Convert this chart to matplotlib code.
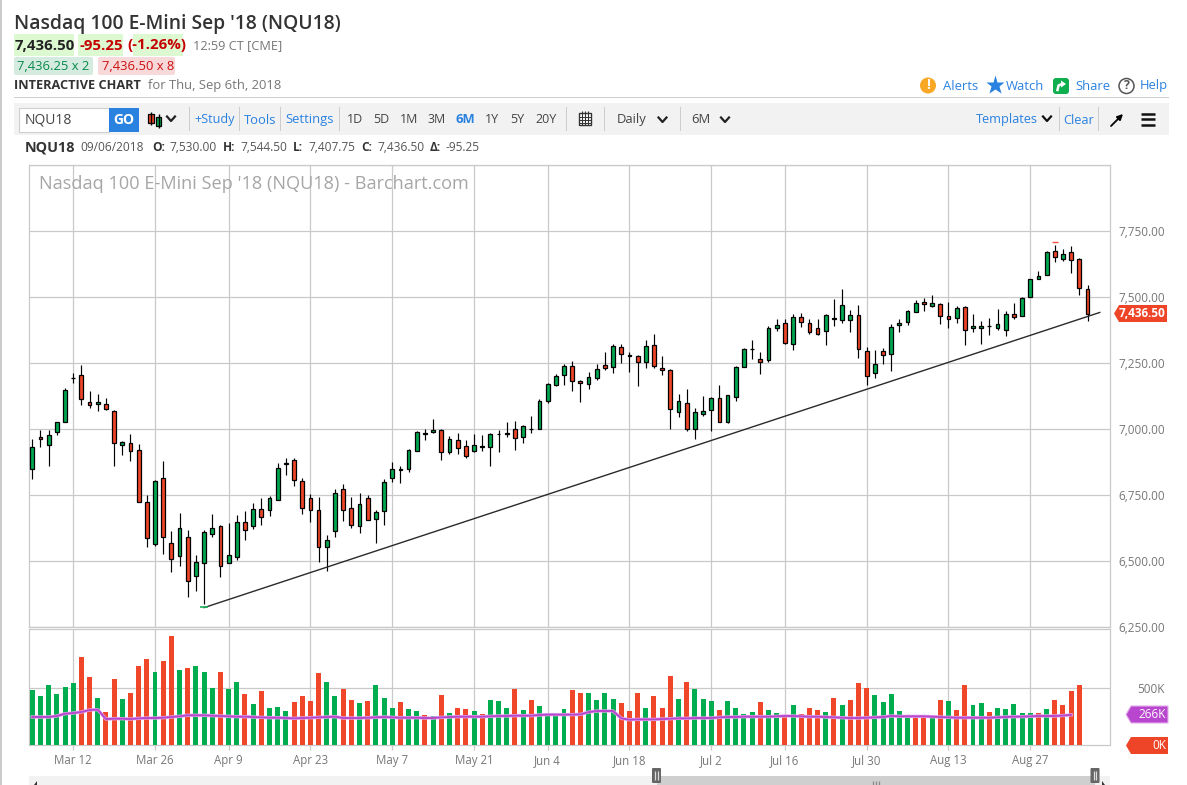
import matplotlib
matplotlib.use("Agg")
import matplotlib.pyplot as plt
from matplotlib.patches import Rectangle, Polygon, FancyBboxPatch, Circle

# ---------------- data ----------------
opens = [6848,6970,6939,6989,7027,7192,7205,7102,7095,7095,7068,6939,6947,6920,6723,6564,6814,6568,6519,6591,
         6443,6492,6602,6633,6492,6515,6648,6633,6697,6693,6731,6867,6883,6803,6739,6693,6553,6614,6773,6701,
         6633,6739,6659,6689,6814,6844,6848,6917,6985,6989,6996,6913,6958,6936,6917,6935,6932,6980,6982,7000,
         6970,7001,7000,7106,7167,7205,7239,7182,7170,7193,7242,7235,7311,7278,7277,7254,7318,7231,7223,7064,
         7098,7000,7057,7072,7117,7026,7121,7235,7302,7265,7261,7383,7402,7322,7424,7402,7383,7371,7421,7413,
         7413,7432,7295,7212,7295,7284,7394,7405,7443,7481,7466,7473,7428,7420,7462,7383,7383,7389,7383,7375,
         7436,7428,7500,7568,7583,7674,7644,7670,7644,7530]
highs = [6960,6994,6994,7027,7155,7212,7240,7144,7133,7117,7072,6953,6981,6943,6750,6807,6879,6614,6682,6617,
         6523,6617,6678,6635,6644,6674,6689,6720,6739,6746,6871,6890,6890,6814,6754,6742,6598,6773,6792,6742,
         6758,6750,6693,6811,6875,6860,6924,6991,7000,7038,7000,6973,6985,6958,6981,6977,6985,6996,7027,7030,
         7015,7049,7114,7174,7208,7246,7258,7186,7216,7246,7292,7322,7322,7292,7280,7337,7360,7277,7225,7133,
         7151,7080,7125,7121,7167,7129,7239,7307,7337,7292,7390,7417,7417,7436,7439,7417,7417,7436,7492,7530,
         7451,7470,7311,7299,7307,7398,7417,7451,7489,7496,7508,7475,7481,7466,7466,7436,7409,7420,7455,7447,
         7477,7500,7568,7598,7674,7697,7682,7693,7646,7544.5]
lows = [6809,6931,6859,6976,7025,7174,7090,7078,7067,7071,6859,6900,6878,6723,6552,6557,6525,6457,6480,6362,
        6385,6337,6590,6438,6490,6503,6578,6620,6635,6669,6731,6824,6784,6678,6646,6495,6462,6590,6650,6624,
        6605,6655,6567,6635,6798,6794,6836,6917,6956,6985,6881,6905,6905,6890,6913,6917,6859,6912,6968,6919,
        6947,6985,7000,7098,7162,7165,7143,7101,7150,7186,7222,7212,7250,7215,7162,7230,7231,7205,7000,7044,
        6991,6961,7048,6991,7026,7023,7105,7234,7263,7207,7254,7370,7322,7299,7386,7360,7356,7317,7390,7402,
        7367,7269,7167,7192,7245,7218,7367,7393,7443,7446,7462,7396,7381,7401,7319,7367,7323,7356,7375,7353,
        7417,7428,7500,7568,7583,7633,7636,7590,7508,7407.75]
closes = [6931,6961,6977,7027,7148,7194,7114,7091,7102,7076,6947,6951,6917,6723,6587,6803,6591,6508,6625,6424,
          6496,6610,6625,6480,6523,6648,6617,6697,6667,6739,6852,6871,6807,6701,6693,6553,6580,6758,6693,6636,
          6716,6655,6686,6799,6848,6846,6920,6989,6982,6996,6913,6962,6928,6898,6939,6932,6981,6982,6985,6966,
          7011,6999,7106,7170,7201,7239,7182,7174,7197,7227,7231,7314,7284,7276,7254,7314,7239,7223,7076,7106,
          7000,7064,7068,7117,7026,7129,7235,7303,7304,7254,7383,7394,7326,7424,7405,7367,7360,7432,7418,7470,
          7432,7303,7201,7246,7280,7386,7401,7447,7477,7473,7477,7428,7417,7458,7375,7390,7390,7391,7398,7436,
          7424,7496,7568,7580,7670,7652,7663,7640,7534,7436.5]
volumes = [485,432,529,450,512,547,776,600,415,291,582,406,459,697,759,644,741,961,662,679,
           697,644,503,644,494,556,450,362,476,326,335,300,379,432,388,635,556,432,494,397,
           370,388,529,415,326,379,318,300,265,256,441,282,326,318,300,273,397,388,326,494,
           309,397,344,265,265,318,485,459,459,397,459,406,370,300,459,326,432,326,609,406,
           556,494,406,388,309,388,326,273,291,379,309,282,256,353,273,326,309,291,415,353,
           397,547,503,441,379,450,300,247,265,247,238,397,388,309,529,353,370,291,326,318,
           362,282,282,282,318,397,353,476,529,0]
vol_dirs = list("GGGGGGRRGRRGRRRGRRGRGGGRGGRGRGGGRRRRGGRRGRGGGR"
                "GGRGRGRRGRGGGRGRGGGGRRGGGGRRRGRRRGRGGGRGGGGRGG"
                "RGRRRGRGRRRGGGGGRRGRGRRGGRGGGGGRGRRR")
vol_dirs = (vol_dirs + ["R"] * 130)[:130]
vol_ma = [247,247,247,256,276,282,291,309,312,229,232,232,229,235,238,238,241,247,253,262,
          262,262,259,256,253,250,250,247,244,241,241,238,235,238,241,244,247,250,238,238,
          238,241,244,247,244,241,241,241,238,238,244,247,250,250,250,250,253,256,256,259,
          259,259,265,268,268,268,268,270,290,300,300,300,235,223,226,226,226,229,232,235,
          235,238,238,238,244,247,247,250,250,250,250,253,256,256,253,250,250,247,244,241,
          238,238,241,244,247,256,253,253,253,253,250,247,244,241,241,241,241,241,244,247,
          250,250,253,256,256,256,260,266]
tick_idx = [5,15,24,34,44,54,63,73,83,92,102,112,122]
tick_labels = ["Mar 12","Mar 26","Apr 9","Apr 23","May 7","May 21","Jun 4","Jun 18","Jul 2","Jul 16","Jul 30","Aug 13","Aug 27"]
price_ticks = [6250,6500,6750,7000,7250,7500,7750]
trend_x = [21.0,130.5]
trend_y = [6322,7441]
high_mark = (125,7708)
low_mark = (21,6326)

# ---------------- palette ----------------
GRID="#c9c9c9"; GR="#00a84f"; RD="#ee4528"; BLUE="#2a82e0"; GREY="#777777"; DARK="#333333"
plt.rcParams['font.family']=['Open Sans','DejaVu Sans']

W,H=1187,785
fig=plt.figure(figsize=(W/100,H/100),dpi=100,facecolor="white")
def pos(l,t,r,b): return [l/W,1-b/H,(r-l)/W,(b-t)/H]
ov=fig.add_axes([0,0,1,1],zorder=5); ov.set_xlim(0,W); ov.set_ylim(H,0); ov.axis("off"); ov.patch.set_alpha(0)

PX0,PXS=32.3,8.18
L,R=28.8,1109.8
xlim=((L-PX0)/PXS,(R-PX0)/PXS)
def setup(ax):
    ax.set_xlim(*xlim)
    for s in ax.spines.values():
        s.set_color(GRID); s.set_linewidth(0.9)
    ax.set_axisbelow(True)
    ax.set_xticks(tick_idx)
    ax.grid(True,color=GRID,lw=0.9)

# main panel
ax=fig.add_axes(pos(L,165,R,626.6)); setup(ax)
ax.set_ylim(6250,8000); ax.set_yticks(price_ticks+[8000])
ax.tick_params(left=False,right=False,bottom=False,labelleft=False,labelbottom=False)
xs=list(range(len(opens)))
ax.vlines(xs,lows,highs,color="black",lw=0.85,zorder=3)
bottoms=[min(o,c) for o,c in zip(opens,closes)]
heights=[abs(o-c) for o,c in zip(opens,closes)]
cols=[GR if c>=o else RD for o,c in zip(opens,closes)]
ax.bar(xs,heights,0.46,bottom=bottoms,color=cols,edgecolor="black",lw=0.9,zorder=4)
ax.plot(trend_x,trend_y,color="#2a2a2a",lw=1.0,zorder=5)
ax.plot(*high_mark,marker="_",ms=4,mew=1,color="#ee5540",zorder=5)
ax.plot(*low_mark,marker="_",ms=6,mew=1.2,color="#22b060",zorder=5)

# volume panel
av=fig.add_axes(pos(L,629.4,R,745)); setup(av)
av.set_ylim(0,1020); av.set_yticks([500])
av.tick_params(left=False,right=False,labelleft=False,labelbottom=False,length=3.5,color=GRID,width=0.9)
av.bar(xs,volumes,0.61,color=["#00ae4f" if d=="G" else "#f0472a" for d in vol_dirs],zorder=3)
av.plot(range(len(vol_ma)),vol_ma,color="#e6a6ee",lw=2.4,zorder=4)
av.plot(range(len(vol_ma)),vol_ma,color="#b648cc",lw=1.4,zorder=5)

def T(x,y,s,size=9.4,color=DARK,weight="normal",ha="left"):
    return ov.text(x,y,s,fontsize=size,color=color,fontweight=weight,ha=ha,va="center")
def box(x0,y0,x1,y1,fc,ec="none",lw=0.8):
    ov.add_patch(Rectangle((x0,y0),x1-x0,y1-y0,fc=fc,ec=ec,lw=lw))
def rbox(x0,y0,x1,y1,fc,r=2):
    ov.add_patch(FancyBboxPatch((x0+r,y0+r),x1-x0-2*r,y1-y0-2*r,boxstyle=f"round,pad={r}",fc=fc,ec="none"))
def line(xx,yy,c="#222222",lw=1.3):
    ov.plot(xx,yy,color=c,lw=lw,solid_capstyle="butt")
def chev(x,y,c="#222222"):
    ov.plot([x-4,x,x+4],[y-2.5,y+2,y-2.5],color=c,lw=1.6)

# axis labels
for p in price_ticks:
    ov.text(1165,431-(p-7000)*66/250,f"{p:,.2f}",fontsize=8.5,color=GREY,ha="right",va="center")
for i,s in zip(tick_idx,tick_labels):
    ov.text(PX0+PXS*i,760.5,s,fontsize=8.3,color=GREY,ha="center",va="center")
T(1165,689.5,"500K",8.5,GREY,ha="right")

# value tags
def tag(x0,x1,y0,y1,c,s,ec="none",weight="normal"):
    ov.add_patch(Polygon([(x0,(y0+y1)/2),(x0+5,y0),(x1,y0),(x1,y1),(x0+5,y1)],fc=c,ec=ec,lw=0.8))
    T(x1-2,(y0+y1)/2,s,8.5,"white",weight,ha="right")
tag(1114,1167,305,322,RD,"7,436.50",weight="bold")
tag(1126,1168,706,723,"#b946cf","266K",ec="#e3aeea")
tag(1126,1168,737,754,RD,"0K")

# watermark
T(39,184,"Nasdaq 100 E-Mini Sep '18 (NQU18) - Barchart.com",13.1,"#a6a6a6")

# header
ov.add_patch(Rectangle((0,0),1.5,H,fc="#cccccc",ec="none"))
T(14,24,"Nasdaq 100 E-Mini Sep '18 (NQU18)",13.9,DARK,"semibold")
box(14,34,74,56,"#dcf9d2"); box(78,34,123,56,"#dcf9d2"); box(133,34,183,56,"#dcf9d2")
T(15,45.5,"7,436.50",10.8,"#222222","bold")
T(79,45.5,"-95.25",10.8,"#c40000","bold")
T(127,45.5,"(-1.26%)",10.8,"#c40000","bold")
T(193,46,"12:59 CT [CME]",9.2,GREY)
rbox(14,57,93,75,"#d6ebe0"); rbox(98,57,175,75,"#f8d9d9")
T(17,66,"7,436.25 x 2",9.4,"#06894a"); T(102,66,"7,436.50 x 8",9.4,"#cc1111")
T(14,85.5,"INTERACTIVE CHART",9.2,DARK,"bold"); T(148.5,85.5,"for Thu, Sep 6th, 2018",9.4,GREY)
box(14,97,1169,98,"#cfcfcf")

# top-right links
ov.add_patch(Circle((928,85.5),8,fc="#f9a825",ec="none"))
T(928,85,"!",10,"white","bold",ha="center")
T(943,86,"Alerts",9.4,BLUE)
ov.plot([994.5],[85],marker="*",ms=14,color=BLUE,mec="none")
T(1006,86,"Watch",9.4,BLUE)
rbox(1053,78,1069,94,"#0fae4f",r=3)
ov.plot([1057.5,1058.5,1062],[90,85.5,84],color="white",lw=1.8)
ov.add_patch(Polygon([(1061,80.5),(1066,84),(1061,87.5)],fc="white",ec="none"))
T(1075,86,"Share",9.4,BLUE)
ov.add_patch(Circle((1126.5,86),7.5,fc="white",ec="#555555",lw=1.1))
T(1126.5,85.5,"?",9,"#555555","bold",ha="center")
T(1140,86,"Help",9.4,BLUE)

# toolbar
box(14,103,1169,135,"#f2f2f2")
box(19,108,109,132,"white","#cfcfcf")
T(25,120,"NQU18",10,"#444444")
box(109,108,139,132,BLUE)
T(124,120,"GO",10,"white","bold",ha="center")
line([150.5,150.5],[112,125],"black",1); box(147.5,114,153.5,123,RD,"black",0.9)
line([158.5,158.5],[114,128],"black",1); box(156,117,161,126,GR,"black",0.9)
chev(171,119)
for sx in [189,239,280.5,339,566,604,680.5,1059,1098]:
    box(sx-0.5,107,sx+0.5,131,"#cccccc")
T(194,119,"+Study",9.1,BLUE); T(244,120,"Tools",9.4,BLUE); T(285,119,"Settings",9.4,BLUE)
for x,s in [(347,"1D"),(373,"5D"),(400,"1M"),(428,"3M"),(485,"1Y"),(510,"5Y"),(535,"20Y")]:
    T(x,119.5,s,9,"#444444")
T(455,119.5,"6M",9.4,BLUE,"bold")
box(578.5,113,591,125,"white","#333333",1)
for yy in [116.5,119.5,122.5]:
    line([579,591],[yy,yy],"#333333",0.7)
for xx in [582,585,588]:
    line([xx,xx],[111,125],"#333333",0.8)
T(617,119.5,"Daily",9.4,"#444444"); chev(662.5,120)
T(691,119.5,"6M",9.4,"#444444"); chev(725,120)
T(976,119,"Templates",9.2,BLUE); chev(1047,119,"#111111")
T(1063,120,"Clear",9.2,BLUE)
ov.annotate("",xy=(1123,114),xytext=(1111,126),arrowprops=dict(arrowstyle="-|>",color="black",lw=1.3,mutation_scale=8,shrinkA=0,shrinkB=0))
for yy in [113.5,119,124.5]:
    line([1141,1155],[yy,yy],"#111111",1.8)

# OHLC line
T(25,147,"NQU18",10.4,DARK,"bold")
T(80,147.5,"09/06/2018",8.6,"#555555")
for x,s,b in [(152,"O:",1),(169,"7,530.00",0),(223,"H:",1),(240,"7,544.50",0),(293,"L:",1),(308,"7,407.75",0),
              (361,"C:",1),(377,"7,436.50",0),(430,"Δ:",1),(446,"-95.25",0)]:
    T(x,147.5,s,8.6,DARK if b else "#555555","bold" if b else "normal")

# scroll bar
box(29,776,1110,785,"#f2f2f2")
box(657,776,1095,785,"#cfcfcf")
for cx in [656.5,1095]:
    rbox(cx-4.5,768,cx+4.5,783,"#666666",r=1)
    line([cx-1.3,cx-1.3],[771,780],"#dddddd",0.9); line([cx+1.3,cx+1.3],[771,780],"#dddddd",0.9)
for xx in [873,876,879]:
    line([xx,xx],[781,785],"#888888",0.9)
ov.add_patch(Polygon([(34,785),(37,781),(37,785)],fc="#333333",ec="none"))
ov.add_patch(Polygon([(1102,781),(1105,785),(1102,785)],fc="#333333",ec="none"))

fig.savefig("out.png",dpi=100)
